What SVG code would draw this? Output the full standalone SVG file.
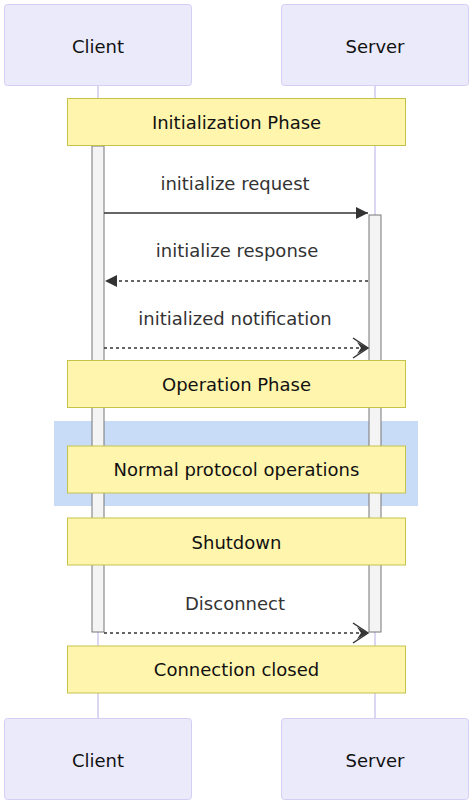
<svg xmlns="http://www.w3.org/2000/svg" width="472" height="803" viewBox="0 0 472 803">
<style>
.actor{fill:#eaeafb;stroke:#d5cdf4;stroke-width:1}
.life{stroke:#ddd6f3;stroke-width:2}
.note{fill:#fff5ad;stroke:#c3c34c;stroke-width:1}
.act{fill:#f4f4f4;stroke:#777;stroke-width:1}
.t{font-family:"DejaVu Sans",sans-serif;font-size:18px;text-anchor:middle;dominant-baseline:central;fill:#111}
.m{font-family:"DejaVu Sans",sans-serif;font-size:18px;text-anchor:middle;dominant-baseline:central;fill:#333}
.msg{stroke:#333;stroke-width:1.5;fill:none}
.dash{stroke-dasharray:3,3}
</style>
<defs>
<marker id="filled" markerWidth="12" markerHeight="12" refX="12" refY="6" orient="auto" markerUnits="userSpaceOnUse">
<path d="M0,0 L12,6 L0,12 Z" fill="#333"/>
</marker>
<marker id="open" markerWidth="18" markerHeight="22" refX="16" refY="11" orient="auto" markerUnits="userSpaceOnUse">
<path d="M1,1 L16,11 L1,21" fill="none" stroke="#333" stroke-width="1.5"/>
<path d="M5,5 L16,11 L5,17 L9,11 Z" fill="#333"/>
</marker>
</defs>
<rect x="54" y="421" width="364" height="85" fill="#c8dcf8"/>
<g id="lifelines">
<line class="life" x1="98" y1="85" x2="98" y2="718"/>
<line class="life" x1="375" y1="85" x2="375" y2="718"/>
</g>
<g id="actor-client-top"><rect class="actor" x="4.5" y="4.5" width="187" height="81" rx="3"/><text class="t" x="98" y="46">Client</text></g>
<g id="actor-server-top"><rect class="actor" x="281.5" y="4.5" width="187" height="81" rx="3"/><text class="t" x="375" y="46">Server</text></g>
<g id="activation-client"><rect class="act" x="92" y="146" width="12" height="486"/></g>
<g id="activation-server"><rect class="act" x="369" y="215" width="12" height="417"/></g>
<g id="note-init"><rect class="note" x="67.5" y="98.5" width="338" height="47"/><text class="t" x="236.5" y="122">Initialization Phase</text></g>
<g id="note-operation"><rect class="note" x="67.5" y="360.5" width="338" height="47"/><text class="t" x="236.5" y="384">Operation Phase</text></g>
<g id="note-normal"><rect class="note" x="67.5" y="446" width="338" height="47"/><text class="t" x="236.5" y="469.5">Normal protocol operations</text></g>
<g id="note-shutdown"><rect class="note" x="67.5" y="518" width="338" height="47"/><text class="t" x="236.5" y="542">Shutdown</text></g>
<g id="note-closed"><rect class="note" x="67.5" y="646" width="338" height="47"/><text class="t" x="236.5" y="669.5">Connection closed</text></g>
<g id="connectors">
<line class="msg" x1="104" y1="213" x2="368" y2="213" marker-end="url(#filled)"/>
<text class="m" x="235" y="183">initialize request</text>
<line class="msg dash" x1="368" y1="281" x2="105" y2="281" marker-end="url(#filled)"/>
<text class="m" x="237" y="250">initialize response</text>
<line class="msg dash" x1="104" y1="348" x2="368" y2="348" marker-end="url(#open)"/>
<text class="m" x="235" y="318">initialized notification</text>
<line class="msg dash" x1="104" y1="633" x2="368" y2="633" marker-end="url(#open)"/>
<text class="m" x="235" y="603">Disconnect</text>
</g>
<g id="actor-client-bottom"><rect class="actor" x="4.5" y="718.5" width="187" height="81" rx="3"/><text class="t" x="98" y="760">Client</text></g>
<g id="actor-server-bottom"><rect class="actor" x="281.5" y="718.5" width="187" height="81" rx="3"/><text class="t" x="375" y="760">Server</text></g>
</svg>
